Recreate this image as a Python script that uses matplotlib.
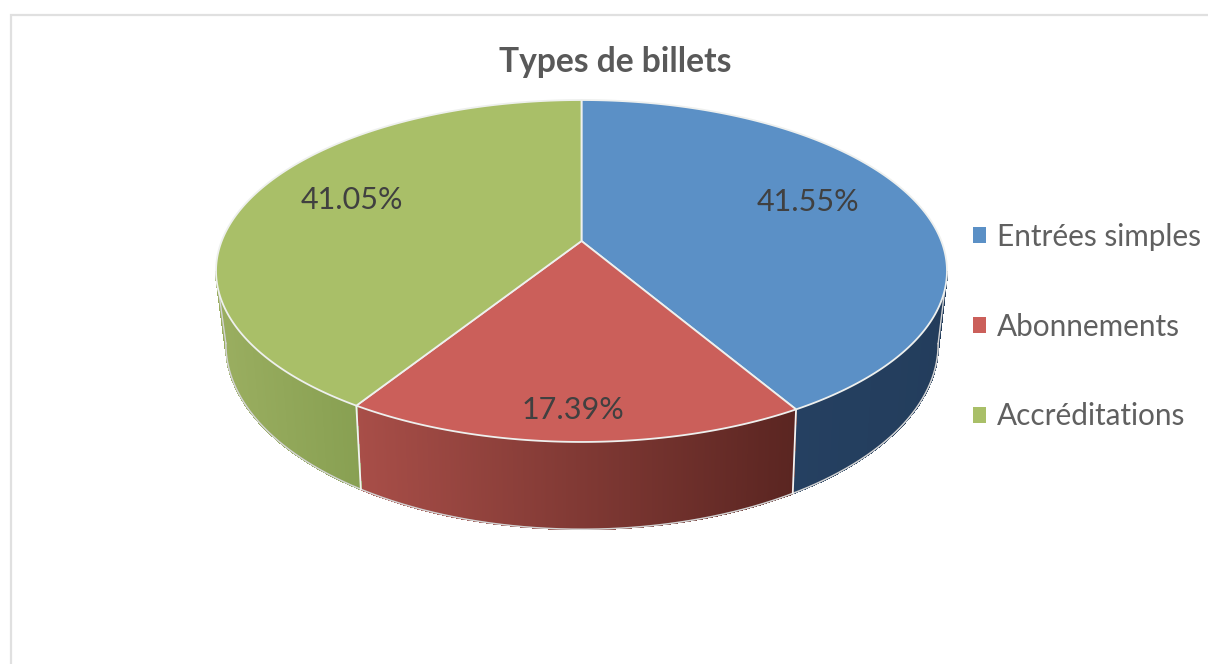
import numpy as np
import matplotlib
matplotlib.use("Agg")
import matplotlib.pyplot as plt
from matplotlib.collections import PolyCollection
from matplotlib.colors import to_rgb
from matplotlib.patches import Patch, Polygon

title = "Types de billets"
categories = ["Entrées simples", "Abonnements", "Accréditations"]
shares = [41.55, 17.39, 41.05]

top_colors = ["#5b90c6", "#cb5f5a", "#a9bf68"]
side_left = ["#254061", "#a84e48", "#9aae60"]
side_right = ["#233d5c", "#5a2521", "#88a052"]
label_pos = [(808, 202), (573, 410), (352, 200)]

plt.rcParams["font.family"] = ["Lato", "DejaVu Sans"]
fig = plt.figure(figsize=(12.08, 6.64), dpi=100)
ax = fig.add_axes([0, 0, 1, 1])
ax.set_xlim(0, 1208)
ax.set_ylim(664, 0)
ax.axis("off")

# chart frame, running off the right and bottom edges
ax.plot([10.5, 10.5, 1208], [664, 14.5, 14.5], color="#e0e0e0", lw=1.6,
        solid_joinstyle="miter")


def project(theta, cx, cy, rx, ry, a):
    """Perspective view of a circle; theta is clockwise from 12 o'clock."""
    x, y = np.sin(theta), np.cos(theta)
    w = 1 + a * y
    return cx + rx * x / w, cy - ry * y / w


def top_xy(theta):
    return project(theta, 581.5, 241, 359.8, 165.7, 0.1754)


def bottom_xy(theta):
    return project(theta, 582, 310, 350, 178.7, 0.185)


fractions = np.array(shares) / np.sum(shares)
edges = 2 * np.pi * np.concatenate([[0], np.cumsum(fractions)])
horizon = -0.18  # cos(theta) at the widest point of the drum

# side walls
for i in range(len(shares)):
    th = np.linspace(edges[i], edges[i + 1], 400)
    th = th[np.cos(th) <= horizon]
    tx, ty = top_xy(th)
    bx, by = bottom_xy(th)
    lo, hi = tx.min(), tx.max()
    c0, c1 = np.array(to_rgb(side_left[i])), np.array(to_rgb(side_right[i]))
    quads, colors = [], []
    for j in range(len(th) - 1):
        quads.append([(tx[j], ty[j]), (tx[j + 1], ty[j + 1]),
                      (bx[j + 1], by[j + 1]), (bx[j], by[j])])
        t = (tx[j] - lo) / max(hi - lo, 1)
        colors.append(c0 + (c1 - c0) * t)
    ax.add_collection(PolyCollection(quads, facecolors=colors, edgecolors=colors,
                                     linewidths=0.8, antialiaseds=False, zorder=2))
    # thin pale rim along the underside
    ax.plot(bx, by, color="#d4d4d4", lw=1.1, zorder=3)
    # silhouette where the wall meets the background at either end of the drum
    for k in (0, -1):
        if abs(np.cos(th[k]) - horizon) < 0.02:
            ax.plot([tx[k], bx[k]], [ty[k], by[k]], color="#d4d4d4", lw=1.0, zorder=3)

# vertical seams on the front of the drum
for e in edges[1:-1]:
    ax.plot([top_xy(e)[0], bottom_xy(e)[0]], [top_xy(e)[1], bottom_xy(e)[1]],
            color="#f2f2f2", lw=1.3, zorder=4)

# top faces
for i in range(len(shares)):
    th = np.linspace(edges[i], edges[i + 1], 300)
    tx, ty = top_xy(th)
    cx, cy = 581.5, 241
    pts = np.column_stack([np.r_[cx, tx], np.r_[cy, ty]])
    ax.add_patch(Polygon(pts, closed=True, facecolor=top_colors[i],
                         edgecolor="#eef0ee", lw=1.3, joinstyle="round", zorder=5))

for share, (lx, ly) in zip(shares, label_pos):
    ax.text(lx, ly, f"{share:.2f}%", ha="center", va="center", fontsize=22,
            color="#404040", zorder=6)

ax.text(615, 62, title, ha="center", va="center", fontsize=24.2, fontweight="bold",
        color="#595959")

handles = [Patch(facecolor=c, edgecolor="none") for c in top_colors]
ax.legend(handles, categories, loc="center left", bbox_to_anchor=(973, 326.5),
          bbox_transform=ax.transData, frameon=False, fontsize=21.4,
          handlelength=0.44, handleheight=0.44, handletextpad=0.37,
          labelspacing=2.08, borderpad=0, borderaxespad=0, labelcolor="#606060")

fig.savefig("out.png", dpi=100)
